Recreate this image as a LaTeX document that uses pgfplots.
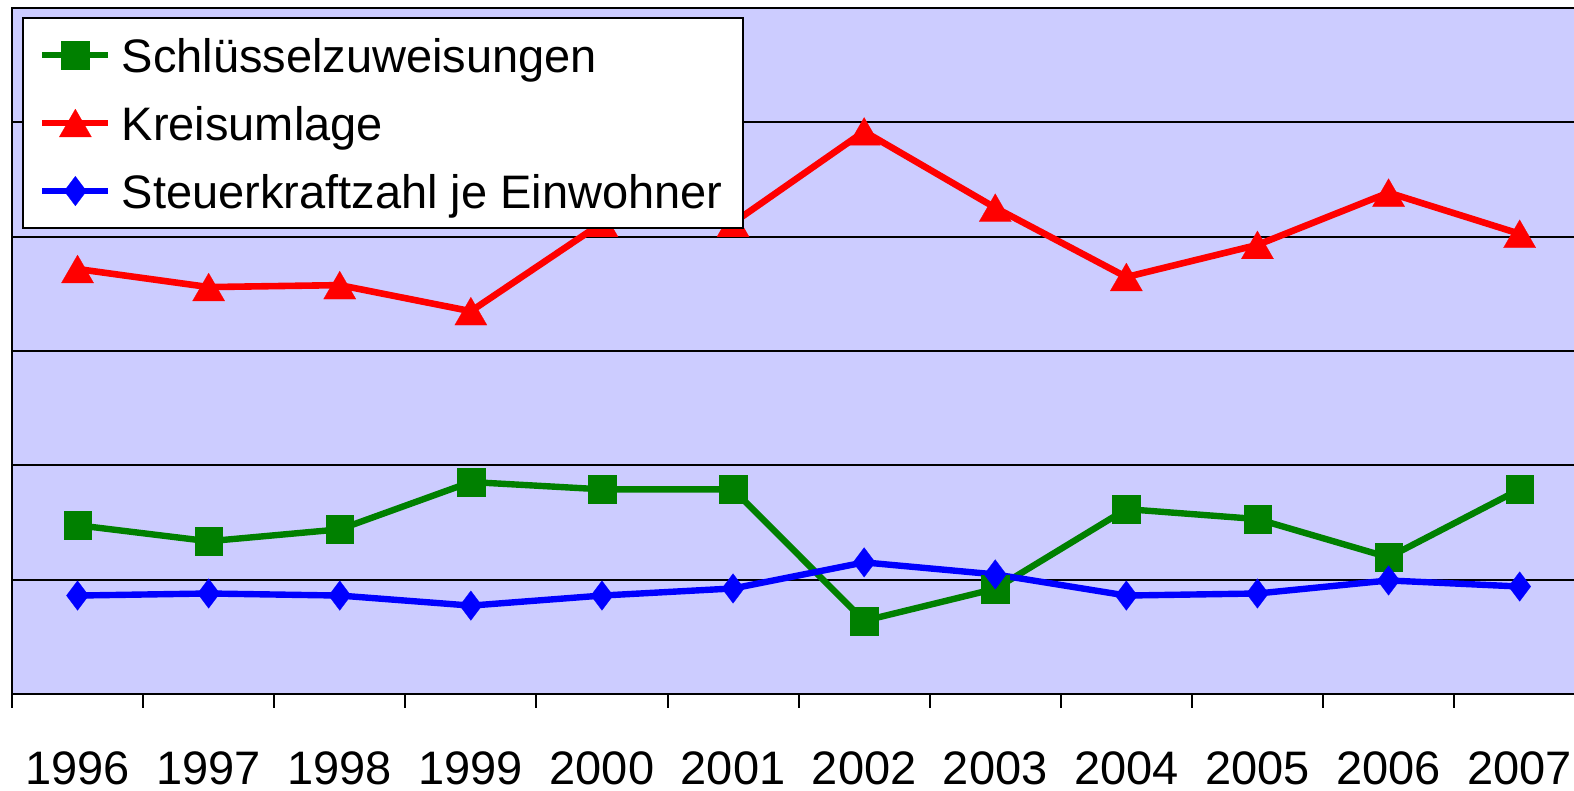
\documentclass[border=0pt]{standalone}
\usepackage{pgfplots}
\pgfplotsset{compat=1.18}
\usepackage{fontspec}
\setmainfont{Liberation Sans}
\definecolor{bg}{RGB}{204,204,255}
\definecolor{dgreen}{RGB}{0,128,0}
\begin{document}
\begin{tikzpicture}
\useasboundingbox (0,0) rectangle (787pt,-395.5pt);
\clip (0,0) rectangle (787pt,-395.5pt);
\begin{axis}[
  at={(6pt,-4pt)}, anchor=north west,
  scale only axis, width=786.6pt, height=343pt,
  xmin=-0.5, xmax=11.5, ymin=0, ymax=6,
  axis background/.style={fill=bg},
  axis line style={black, line width=1pt},
  xtick={-0.5,0.5,1.5,2.5,3.5,4.5,5.5,6.5,7.5,8.5,9.5,10.5,11.5},
  x tick label as interval,
  xticklabels={1996,1997,1998,1999,2000,2001,2002,2003,2004,2005,2006,2007},
  xtick pos=lower,
  tick align=outside,
  major tick length=7pt,
  x tick style={black, line width=1pt},
  xticklabel style={font=\fontsize{23.5pt}{28pt}\selectfont, inner sep=0pt, anchor=north, yshift=-21.5pt},
  ytick={0,1,2,3,4,5,6},
  yticklabels={},
  y tick style={draw=none},
  ymajorgrids,
  grid style={black, line width=1pt},
  legend image code/.code={\draw[mark repeat=2,mark phase=2,#1] plot coordinates {(0pt,0pt) (16.5pt,0pt) (33pt,0pt)};},
  legend cell align=left,
  legend style={at={(0.0064,0.9868)}, anchor=north west, draw=black, line width=1pt, fill=white,
    font=\fontsize{23.5pt}{28pt}\selectfont, row sep=8pt, column sep=3pt, inner xsep=8pt, inner ysep=5.5pt,
    nodes={inner sep=2pt, text height=19.5pt, text depth=2.5pt}},
]
\addplot[dgreen, line width=3.2pt, mark=square*, mark size=6.9pt, mark options={solid, line width=0.1pt}]
  coordinates {(0,1.476)(1,1.336)(2,1.44)(3,1.854)(4,1.79)(5,1.79)(6,0.64)(7,0.92)(8,1.617)(9,1.53)(10,1.195)(11,1.79)};
\addlegendentry{Schlüsselzuweisungen}
\addplot[red, line width=3.3pt, mark=triangle*, mark size=9.3pt, mark options={solid, line width=0.1pt, yshift=-2.3pt}]
  coordinates {(0,3.717)(1,3.559)(2,3.576)(3,3.348)(4,4.12)(5,4.12)(6,4.92)(7,4.253)(8,3.647)(9,3.928)(10,4.385)(11,4.025)};
\addlegendentry{Kreisumlage}
\addplot[blue, line width=3.2pt, mark=diamond*, mark size=7.4pt, mark options={solid, line width=0.1pt}]
  coordinates {(0,0.861)(1,0.879)(2,0.861)(3,0.773)(4,0.861)(5,0.923)(6,1.151)(7,1.046)(8,0.861)(9,0.879)(10,0.993)(11,0.94)};
\addlegendentry{Steuerkraftzahl je Einwohner}
\end{axis}
\end{tikzpicture}
\end{document}
